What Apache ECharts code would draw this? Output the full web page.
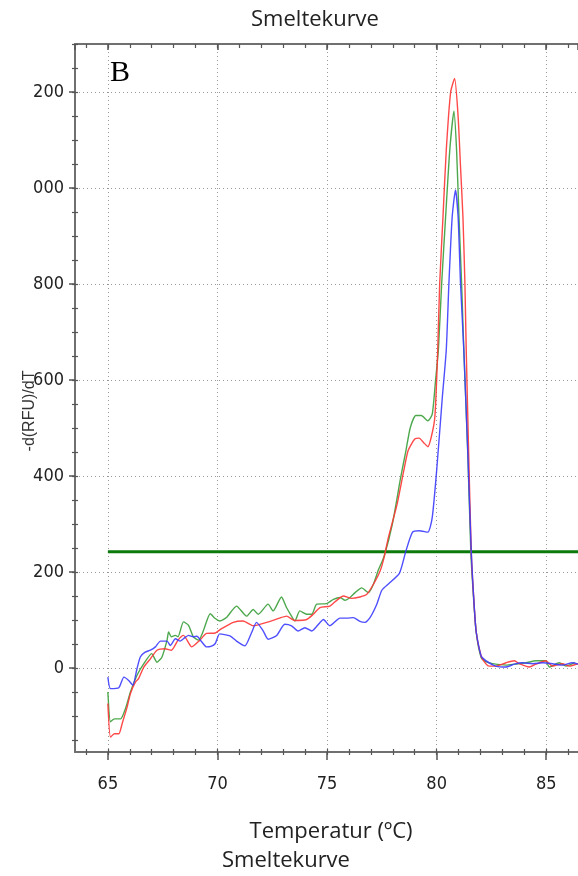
<!DOCTYPE html>
<html>
<head>
<meta charset="utf-8">
<script src="https://cdn.jsdelivr.net/npm/echarts@6/dist/echarts.min.js"></script>
<style>
  html, body { margin: 0; padding: 0; background: #ffffff; }
  #chart { width: 578px; height: 876px; }
</style>
</head>
<body>
<div id="chart"></div>
<script>
// ---------- data ----------
const xTickValues = [65, 70, 75, 80, 85];
const xTickLabels = ['65', '70', '75', '80', '85'];
const yTickValues = [0, 200, 400, 600, 800, 1000, 1200];
const yTickLabels = ['0', '200', '400', '600', '800', '000', '200'];

const redX = [65.0, 65.12, 65.3, 65.5, 65.65, 65.88, 66.03, 66.26, 66.4, 66.64, 66.94, 67.24, 67.6, 67.9, 68.2, 68.45, 68.83, 69.2, 69.5, 69.9, 70.12, 70.72, 71.17, 71.63, 72.24, 72.84, 73.15, 73.53, 74.07, 74.37, 74.68, 75.13, 75.44, 75.74, 76.12, 76.5, 76.8, 77.11, 77.42, 77.6, 77.8, 78.2, 78.5, 78.7, 79.0, 79.2, 79.4, 79.6, 79.9, 80.0, 80.05, 80.14, 80.29, 80.44, 80.64, 80.82, 80.98, 81.09, 81.2, 81.29, 81.35, 81.46, 81.58, 81.66, 81.8, 82.03, 82.26, 82.4, 82.7, 83.17, 83.55, 83.77, 84.23, 84.53, 84.98, 85.29, 85.74, 86.05, 86.45];
const redY = [-74, -144, -137, -137, -116, -81, -53, -29, -22, 2, 19, 37, 40, 37, 58, 68, 44, 58, 72, 73, 80, 95, 98, 88, 95, 104, 108, 99, 101, 112, 126, 129, 141, 150, 145, 148, 153, 174, 202, 230, 272, 342, 411, 453, 477, 479, 470, 461, 515, 599, 663, 801, 940, 1079, 1200, 1228, 1149, 1044, 940, 801, 663, 450, 242, 170, 77, 25, 8, 4, 4, 11, 15, 9, 2, 8, 15, 4, 9, 4, 9];

const greenX = [65.0, 65.12, 65.3, 65.58, 65.8, 66.03, 66.33, 66.64, 67.0, 67.24, 67.47, 67.7, 67.77, 67.9, 68.08, 68.2, 68.45, 68.68, 68.9, 69.14, 69.36, 69.67, 69.9, 70.11, 70.41, 70.87, 71.33, 71.63, 71.86, 72.31, 72.54, 72.92, 73.15, 73.38, 73.53, 73.76, 74.07, 74.3, 74.53, 74.98, 75.29, 75.59, 75.82, 76.05, 76.28, 76.58, 76.89, 77.11, 77.35, 77.6, 77.98, 78.36, 78.6, 78.8, 79.05, 79.3, 79.6, 79.8, 79.95, 80.08, 80.23, 80.41, 80.6, 80.79, 80.91, 81.02, 81.14, 81.24, 81.42, 81.56, 81.65, 81.8, 82.03, 82.3, 82.56, 83.17, 83.55, 84.08, 84.53, 84.98, 85.14, 85.6, 85.9, 86.3];
const greenY = [-50, -112, -106, -106, -85, -50, -15, 9, 30, 12, 23, 58, 75, 65, 68, 65, 96, 89, 65, 58, 78, 113, 103, 98, 105, 129, 108, 122, 112, 133, 119, 148, 126, 108, 98, 119, 112, 112, 133, 134, 143, 147, 141, 147, 157, 167, 157, 174, 205, 232, 300, 397, 453, 501, 526, 526, 515, 529, 599, 663, 801, 940, 1079, 1160, 1079, 940, 801, 663, 450, 242, 170, 77, 22, 12, 9, 6, 8, 11, 15, 15, 2, 11, 4, 11];

const blueX = [65.0, 65.12, 65.5, 65.73, 65.95, 66.14, 66.33, 66.48, 66.7, 66.94, 67.17, 67.4, 67.7, 67.85, 68.08, 68.3, 68.45, 68.68, 68.9, 69.06, 69.29, 69.5, 69.7, 69.9, 70.1, 70.57, 70.87, 71.25, 71.56, 71.78, 72.09, 72.31, 72.69, 73.07, 73.38, 73.68, 73.99, 74.3, 74.68, 74.83, 75.13, 75.59, 75.9, 76.2, 76.5, 76.73, 76.96, 77.27, 77.5, 77.8, 78.3, 78.6, 78.9, 79.2, 79.6, 79.8, 80.0, 80.26, 80.44, 80.56, 80.71, 80.86, 80.98, 81.09, 81.24, 81.42, 81.58, 81.66, 81.8, 82.03, 82.26, 82.7, 83.17, 83.55, 83.92, 84.38, 84.83, 85.29, 85.74, 86.2, 86.45];
const blueY = [-19, -43, -41, -19, -26, -36, -1, 23, 33, 37, 44, 56, 56, 47, 61, 56, 61, 68, 65, 66, 54, 44, 45, 51, 71, 67, 56, 46, 74, 95, 77, 60, 67, 91, 88, 77, 84, 77, 95, 101, 88, 104, 104, 105, 97, 95, 105, 133, 162, 175, 197, 244, 283, 286, 283, 314, 411, 564, 663, 801, 940, 996, 940, 801, 663, 450, 242, 170, 77, 25, 15, 4, 2, 8, 11, 9, 11, 9, 6, 11, 8];

const thresholdX = [65, 86.45];
const thresholdY = [242, 242];

// ---------- helpers ----------
function zip(xs, ys) { return xs.map((x, i) => [x, ys[i]]); }

const axisColor = '#707070';
const labelFont = '"Liberation Sans Narrow", "DejaVu Sans Condensed", "Liberation Sans", sans-serif';
const gridDots = { show: true, lineStyle: { color: '#9a9a9a', type: [1, 3], width: 1 } };

const chart = echarts.init(document.getElementById('chart'), null, { renderer: 'canvas' });

const option = {
  backgroundColor: '#ffffff',
  animation: false,
  grid: [
    { left: 75, top: 44, width: 503, height: 708, containLabel: false },
    { left: 85.96, top: 44, width: 482.2, height: 708, containLabel: false },
    { left: 75, top: 44, width: 503, height: 696, containLabel: false }
  ],
  xAxis: [
    { // main bottom axis
      type: 'value', gridIndex: 0, position: 'bottom',
      min: 63.5, max: 86.45, splitNumber: 4, minInterval: 5, maxInterval: 5,
      axisLine: { show: true, onZero: false, lineStyle: { color: axisColor, width: 2 } },
      axisTick: { show: true, inside: false, length: 8, lineStyle: { color: '#555', width: 1.5 } },
      axisLabel: {
        show: true, margin: 23, showMinLabel: false, showMaxLabel: false,
        color: '#222', fontSize: 18, fontFamily: labelFont,
        formatter: v => { const i = xTickValues.indexOf(Math.round(v * 100) / 100); return i >= 0 ? xTickLabels[i] : ''; }
      },
      splitLine: gridDots
    },
    { // main top frame
      type: 'value', gridIndex: 0, position: 'top',
      min: 63.5, max: 86.45, splitNumber: 4, minInterval: 5, maxInterval: 5,
      axisLine: { show: true, onZero: false, lineStyle: { color: axisColor, width: 2 } },
      axisTick: { show: true, inside: true, length: 6, lineStyle: { color: '#555', width: 1.5 } },
      axisLabel: { show: false }, splitLine: { show: false }
    },
    { // minor ticks bottom (every 1 degree)
      type: 'value', gridIndex: 1, position: 'bottom', offset: -3,
      min: 64, max: 86, interval: 1,
      axisLine: { show: false, onZero: false },
      axisTick: { show: true, inside: false, length: 6, lineStyle: { color: '#555', width: 1.2 } },
      axisLabel: { show: false }, splitLine: { show: false }
    },
    { // minor ticks top
      type: 'value', gridIndex: 1, position: 'top',
      min: 64, max: 86, interval: 1,
      axisLine: { show: false, onZero: false },
      axisTick: { show: true, inside: true, length: 4, lineStyle: { color: '#555', width: 1.2 } },
      axisLabel: { show: false }, splitLine: { show: false }
    },
    { type: 'value', gridIndex: 2, min: 0, max: 1, show: false }
  ],
  yAxis: [
    { // main y axis
      type: 'value', gridIndex: 0, position: 'left',
      min: -175, max: 1300, splitNumber: 7, minInterval: 200, maxInterval: 200,
      axisLine: { show: true, onZero: false, lineStyle: { color: axisColor, width: 2 } },
      axisTick: { show: true, inside: false, length: 6, lineStyle: { color: '#555', width: 1.5 } },
      axisLabel: {
        show: true, margin: 11, showMinLabel: false, showMaxLabel: false,
        color: '#222', fontSize: 18, fontFamily: labelFont,
        formatter: v => { const i = yTickValues.indexOf(Math.round(v)); return i >= 0 ? yTickLabels[i] : ''; }
      },
      splitLine: gridDots
    },
    { type: 'value', gridIndex: 1, min: 0, max: 1, show: false },
    { // minor ticks every 50
      type: 'value', gridIndex: 2, position: 'left', offset: -3,
      min: -150, max: 1300, interval: 50,
      axisLine: { show: false, onZero: false },
      axisTick: { show: true, inside: false, length: 6, lineStyle: { color: '#555', width: 1.2 } },
      axisLabel: { show: false }, splitLine: { show: false }
    }
  ],
  series: [
    {
      name: 'threshold', type: 'line', xAxisIndex: 0, yAxisIndex: 0,
      data: zip(thresholdX, thresholdY), showSymbol: false, symbol: 'none',
      lineStyle: { color: '#0b7a0b', width: 3 }, z: 3
    },
    {
      name: 'green', type: 'line', xAxisIndex: 0, yAxisIndex: 0,
      data: zip(greenX, greenY), showSymbol: false, symbol: 'none', smooth: 0.2,
      lineStyle: { color: '#3a9e3a', width: 1.4, opacity: 0.9 }, z: 4
    },
    {
      name: 'red', type: 'line', xAxisIndex: 0, yAxisIndex: 0,
      data: zip(redX, redY), showSymbol: false, symbol: 'none', smooth: 0.2,
      lineStyle: { color: '#ff3535', width: 1.4, opacity: 0.9 }, z: 5
    },
    {
      name: 'blue', type: 'line', xAxisIndex: 0, yAxisIndex: 0,
      data: zip(blueX, blueY), showSymbol: false, symbol: 'none', smooth: 0.2,
      lineStyle: { color: '#3c3cff', width: 1.4, opacity: 0.9 }, z: 6
    }
  ],
  graphic: [
    { type: 'text', x: 315, y: 20, style: { text: 'Smeltekurve', fill: '#222', font: '22px "Open Sans", sans-serif', textAlign: 'center', textVerticalAlign: 'middle' } },
    { type: 'text', x: 110, y: 73, style: { text: 'B', fill: '#000', font: '30px "Liberation Serif", serif', textAlign: 'left', textVerticalAlign: 'middle' } },
    { type: 'text', x: 30, y: 411, rotation: Math.PI / 2, style: { text: '-d(RFU)/dT', fill: '#333', font: '16px "Liberation Sans", sans-serif', textAlign: 'center', textVerticalAlign: 'middle' } },
    { type: 'text', x: 331, y: 832, style: { text: 'Temperatur (ºC)', fill: '#222', font: '22px "Open Sans", sans-serif', textAlign: 'center', textVerticalAlign: 'middle' } },
    { type: 'text', x: 286, y: 861, style: { text: 'Smeltekurve', fill: '#222', font: '22px "Open Sans", sans-serif', textAlign: 'center', textVerticalAlign: 'middle' } }
  ]
};

chart.setOption(option);
</script>
</body>
</html>
